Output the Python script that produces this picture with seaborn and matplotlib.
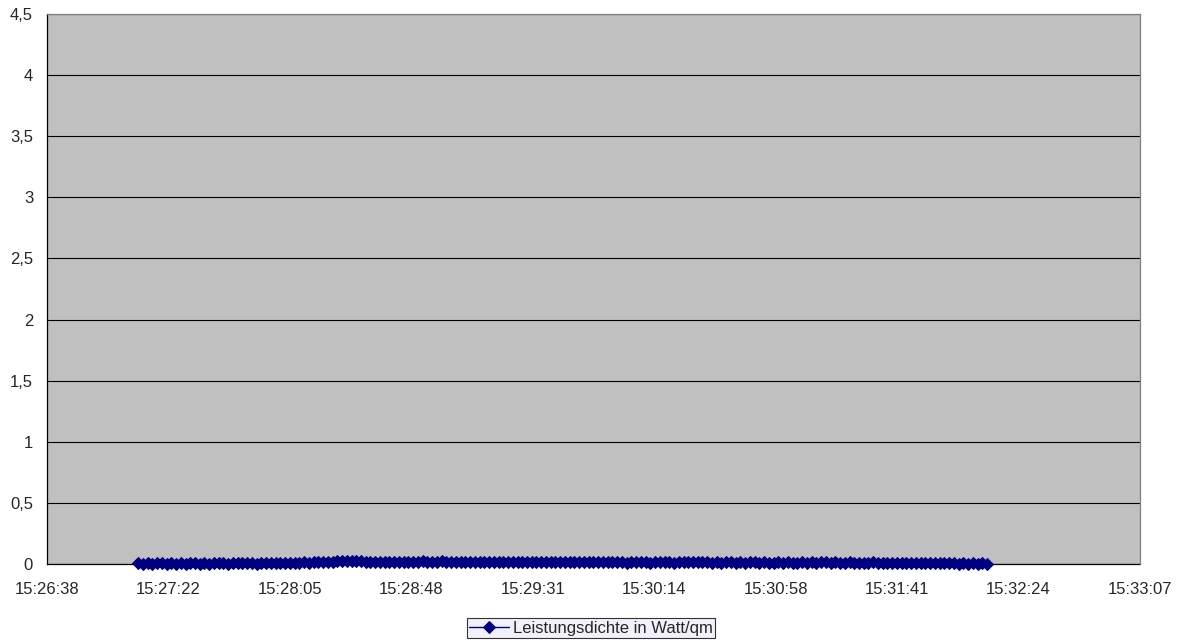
import matplotlib
matplotlib.use("Agg")

import numpy as np
import pandas as pd
import matplotlib.pyplot as plt
import seaborn as sns

# -----------------------------
# Data
# -----------------------------

# sample timestamps: seconds of the day, 15:27:11 .. 15:32:13
start_sec = 55630.8
end_sec = 55932.8

leistung = [
    0.005, 0.004, 0.005, 0.004, 0.005, 0.005, 0.004, 0.005, 0.004, 0.005,
    0.004, 0.005, 0.005, 0.004, 0.005, 0.004, 0.005, 0.006, 0.005, 0.004,
    0.005, 0.006, 0.005, 0.006, 0.005, 0.004, 0.006, 0.007, 0.006, 0.005,
    0.007, 0.008,
    0.009, 0.011, 0.010, 0.013, 0.012, 0.015, 0.013, 0.017, 0.015, 0.020,
    0.022, 0.026, 0.024, 0.028, 0.025, 0.021, 0.018, 0.016, 0.014, 0.017,
    0.015, 0.013, 0.016,
    0.014, 0.017, 0.015, 0.019, 0.016, 0.021, 0.018, 0.016, 0.019, 0.022,
    0.018, 0.016, 0.019, 0.017, 0.015, 0.018, 0.016, 0.014, 0.017, 0.015,
    0.018, 0.016, 0.019, 0.017, 0.015, 0.018, 0.016, 0.014, 0.017, 0.015,
    0.013, 0.016, 0.014, 0.017, 0.015, 0.013, 0.016, 0.014, 0.017, 0.015,
    0.018, 0.016, 0.014, 0.017, 0.015, 0.013, 0.016, 0.014, 0.012, 0.015,
    0.013, 0.016, 0.014, 0.012, 0.015, 0.013, 0.016, 0.014, 0.012, 0.015,
    0.013, 0.016, 0.014, 0.013,
    0.015, 0.013, 0.011, 0.014, 0.012, 0.015, 0.013, 0.011, 0.014, 0.012,
    0.015, 0.013, 0.011, 0.014, 0.012, 0.010, 0.013, 0.011, 0.014, 0.012,
    0.010, 0.013, 0.011, 0.014, 0.012, 0.015, 0.013, 0.011, 0.014, 0.012,
    0.010, 0.013, 0.011, 0.009, 0.012, 0.010, 0.013, 0.011, 0.009, 0.012,
    0.010, 0.011, 0.009,
    0.008, 0.007, 0.008, 0.006, 0.007, 0.006, 0.005, 0.006, 0.005, 0.006,
    0.005, 0.004, 0.005, 0.004, 0.005, 0.004, 0.005, 0.004,
]

xtick_labels = [
    "15:26:38", "15:27:22", "15:28:05", "15:28:48", "15:29:31",
    "15:30:14", "15:30:58", "15:31:41", "15:32:24", "15:33:07",
]
ytick_labels = ["0", "0,5", "1", "1,5", "2", "2,5", "3", "3,5", "4", "4,5"]

df = pd.DataFrame({
    "zeit": np.linspace(start_sec, end_sec, len(leistung)),
    "wert": leistung,
})

# -----------------------------
# Plot
# -----------------------------

sns.set_style("white")
plt.rcParams["font.family"] = ["Liberation Sans", "DejaVu Sans"]

fig = plt.figure(figsize=(11.83, 6.44), dpi=100)
ax = fig.add_axes([47 / 1183, 1 - 564 / 644, 1093 / 1183, 550 / 644])
ax.set_facecolor("#C0C0C0")

sns.lineplot(
    data=df,
    x="zeit",
    y="wert",
    color="#000080",
    marker="D",
    markersize=6,
    markeredgecolor="#000080",
    linewidth=1,
    label="Leistungsdichte in Watt/qm",
    clip_on=False,
    zorder=5,
    ax=ax,
)

x0 = 55598.4
xticks = [x0 + 43.2 * i for i in range(len(xtick_labels))]
ax.set_xlim(xticks[0], xticks[-1])
ax.set_xticks(xticks)
ax.set_xticklabels(xtick_labels)

yticks = [0.5 * i for i in range(len(ytick_labels))]
ax.set_ylim(0, 4.5)
ax.set_yticks(yticks)
ax.set_yticklabels(ytick_labels)

ax.yaxis.grid(True, color="black", linewidth=0.8)
ax.set_axisbelow(True)
ax.tick_params(axis="both", direction="out", length=4, width=0.8,
               color="black", labelsize=12)
ax.tick_params(axis="x", pad=9)
ax.tick_params(axis="y", pad=6)

for side in ["left", "bottom"]:
    ax.spines[side].set_color("black")
    ax.spines[side].set_linewidth(0.9)
    ax.spines[side].set_zorder(1)
for side in ["top", "right"]:
    ax.spines[side].set_color("#808080")
    ax.spines[side].set_linewidth(0.9)

ax.set_xlabel("")
ax.set_ylabel("")

leg = ax.legend(
    loc="center",
    bbox_to_anchor=(591 / 1183, 1 - 628 / 644),
    bbox_transform=fig.transFigure,
    fontsize=12,
    frameon=True,
    fancybox=False,
    handlelength=2.4,
    borderpad=0.15,
    handletextpad=0.2,
    borderaxespad=0,
)
leg.get_frame().set_edgecolor("black")
leg.get_frame().set_facecolor("#EEEEFA")
leg.get_frame().set_linewidth(0.8)

plt.savefig("out.png", dpi=100)
plt.close()
